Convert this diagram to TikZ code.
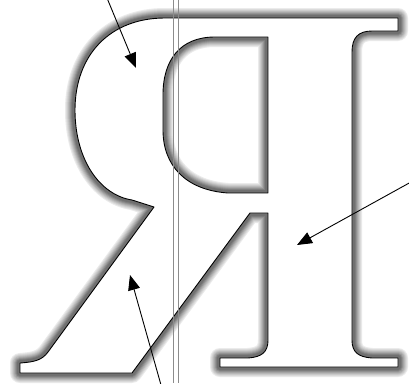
\documentclass[tikz,border=0pt]{standalone}
\usepackage{tikz}
\usetikzlibrary{arrows.meta}
\tikzset{
  glow/.style={draw=black!#1, line join=round},                      % halo step
  rim/.style={draw=black, line width=0.9pt, line join=round},        % letter outline
  guide/.style={draw=black!45, line width=0.6pt},                    % vertical guides
  pointer/.style={draw=black, line width=0.9pt, -{Triangle[length=15pt,width=12pt]}},
}
\newcommand{\letterpath}{
  (20,373) -- (132,373) -- (250,213) -- (268,213) -- (268,340)
  .. controls (268,352) and (262,357) .. (248,358) -- (220,358) -- (220,367)
  -- (398,367) -- (398,358) -- (372,358)
  .. controls (358,357) and (352,352) .. (352,340) -- (352,52)
  .. controls (352,38) and (358,31) .. (372,31) -- (398,31) -- (398,18) -- (165,18)
  .. controls (110,18) and (75,55) .. (75,110)
  .. controls (75,160) and (100,195) .. (132,200) -- (154,207) -- (48,352)
  .. controls (42,360) and (35,362) .. (20,363) -- cycle
  (268,37) -- (268,193) -- (228,193)
  .. controls (185,190) and (163,165) .. (163,130) -- (163,95)
  .. controls (163,60) and (180,37) .. (215,37) -- cycle
}

\begin{document}
\begin{tikzpicture}[x=1pt,y=-1pt]
  \useasboundingbox[fill=white] (0,0) rectangle (409,383);
  % halo, then white letter body over its inner half
  \foreach \w/\c in {20/8,18/14,16/20,14/27,12/34,10/42,8/50,6/56}
    \path[glow=\c, line width=\w pt] \letterpath;
  \path[fill=white, even odd rule] \letterpath;
  \path[rim] \letterpath;
  % guides
  \coordinate (g1t) at (173,0);   \coordinate (g1b) at (173,383);
  \coordinate (g2t) at (178,0);   \coordinate (g2b) at (178,383);
  \draw[guide] (g1t) -- (g1b);
  \draw[guide] (g2t) -- (g2b);
  % pointers
  \coordinate (bowlfrom) at (107,-2);  \coordinate (bowl) at (136,68);
  \coordinate (stemfrom) at (411,182); \coordinate (stem) at (297,245);
  \coordinate (legfrom)  at (161,385); \coordinate (leg)  at (130,275);
  \draw[pointer] (bowlfrom) -- (bowl);
  \draw[pointer] (stemfrom) -- (stem);
  \draw[pointer] (legfrom) -- (leg);
\end{tikzpicture}
\end{document}
